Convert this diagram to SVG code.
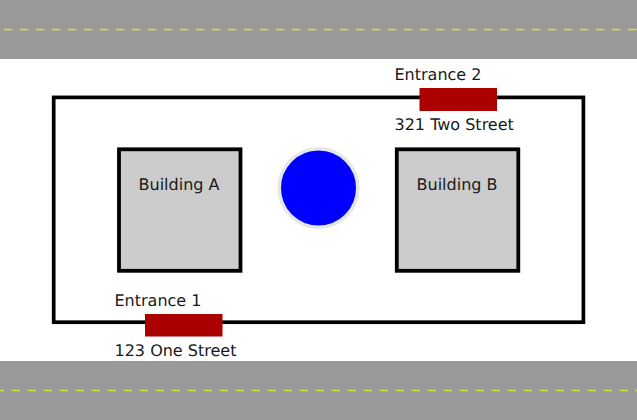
<svg xmlns="http://www.w3.org/2000/svg" width="637" height="420" viewBox="0 0 637 420">
<style>
.road{fill:#999}
.lane{fill:none;stroke:#e0e030;stroke-width:1.6;stroke-dasharray:8.5 7.5}
.bld{fill:#ccc;stroke:#000;stroke-width:3.800}
.ent{fill:#a00}
text{font-family:"DejaVu Sans",sans-serif;font-size:16px;fill:#1a1a1a;text-rendering:geometricPrecision}
</style>
<rect width="637" height="420" fill="#fff"/>
<g id="road-north"><rect class="road" x="0" y="0" width="637" height="59"/><path class="lane" d="M4 29.500H637"/></g>
<g id="road-south"><rect class="road" x="0" y="361" width="637" height="59"/><path class="lane" d="M0 390.500H637" stroke-dashoffset="4.500"/></g>
<g id="site"><rect x="53.700" y="97.400" width="529.700" height="224.800" fill="none" stroke="#000" stroke-width="3.700"/></g>
<g id="building-a"><rect class="bld" x="119" y="149.300" width="121.500" height="121.500"/><text x="179" y="190" text-anchor="middle">Building A</text></g>
<g id="building-b"><rect class="bld" x="396.800" y="149.300" width="121.500" height="121.500"/><text x="457" y="190" text-anchor="middle">Building B</text></g>
<g id="fountain"><circle cx="318.500" cy="188" r="39.250" fill="#00f" stroke="#e6e6e6" stroke-width="3.500"/></g>
<g id="entrance-1"><rect class="ent" x="145" y="314" width="77.500" height="22.500"/><text x="114.500" y="306">Entrance 1</text><text x="114.500" y="356">123 One Street</text></g>
<g id="entrance-2"><rect class="ent" x="419.500" y="88" width="77.500" height="23"/><text x="394.500" y="79.500">Entrance 2</text><text x="394.500" y="129.500">321 Two Street</text></g>
</svg>
